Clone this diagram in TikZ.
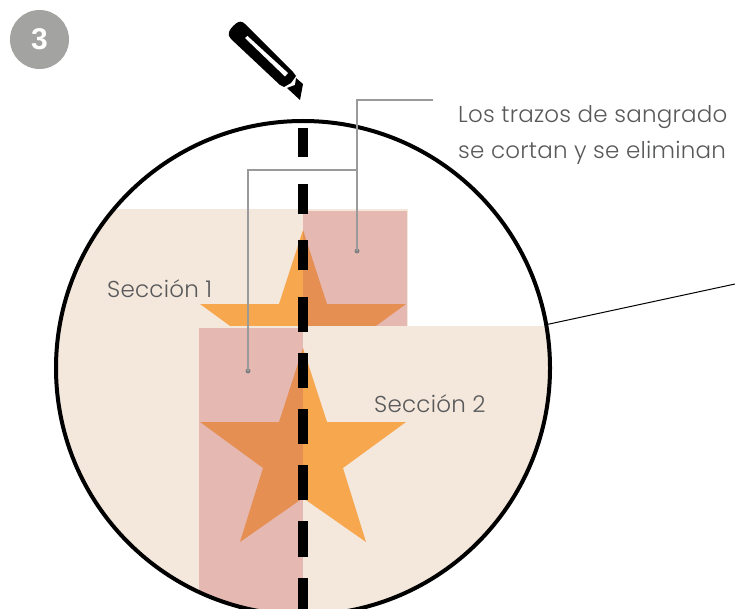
\documentclass[tikz,border=0pt]{standalone}
\usepackage{fontspec}
\setmainfont{Poppins}
\newfontfamily\etiqfont[UprightFont=* Light,LetterSpace=1.0]{Poppins}
\newfontfamily\badgefont{Liberation Sans}
\definecolor{beige}{HTML}{F4E7DB}
\definecolor{rosa}{HTML}{E5B8B1}
\definecolor{naranja}{HTML}{F7A84F}
\definecolor{naranjaosc}{HTML}{E58F53}
\definecolor{gristexto}{HTML}{58595B}
\definecolor{gristrazo}{HTML}{9A9A9A}
\definecolor{badge}{HTML}{A3A3A2}
\tikzset{
  leader/.style={draw=gristrazo,line width=1.2pt},
  leaderdot/.style={circle,fill=gray,inner sep=0pt,minimum size=5pt},
  etiqueta/.style={text=gristexto,font=\etiqfont\fontsize{23}{36}\selectfont,inner sep=0pt,align=left},
  corte/.style={fill=black},
}
\def\starshape#1{(303,#1) -- ++(24,74) -- ++(79,0) -- ++(-63,46) -- ++(23,74) -- ++(-63,-44) -- ++(-63,44) -- ++(23,-74) -- ++(-63,-46) -- ++(79,0) -- cycle}
\begin{document}
\begin{tikzpicture}[x=1pt,y=-1pt]
\useasboundingbox (0,0) rectangle (735,609);
\begin{scope}
  \clip (0,0) rectangle (735,609);
  \begin{scope}
    \clip (303,368) circle [radius=247];
    \fill[beige] (40,209) rectangle (408,640);
    \fill[rosa] (303,211) rectangle (407,326);
    \begin{scope}
      \clip (40,200) rectangle (303,326);
      \fill[naranja] \starshape{230};
    \end{scope}
    \begin{scope}
      \clip (303,200) rectangle (420,326);
      \fill[naranjaosc] \starshape{230};
    \end{scope}
    \fill[beige] (199,326) rectangle (560,640);
    \fill[rosa] (199,328) rectangle (303,640);
    \begin{scope}
      \clip (199,328) rectangle (303,640);
      \fill[naranjaosc] \starshape{348};
    \end{scope}
    \begin{scope}
      \clip (303,328) rectangle (420,640);
      \fill[naranja] \starshape{348};
    \end{scope}
  \end{scope}
  \draw[black,line width=4pt] (303,368) circle [radius=247];
  \foreach \a/\b in {128/157,184/214,240/270,297/332,353/388,409/444,465/500,521/557,578/615}
    \fill[corte] (298,\a) rectangle (308,\b);
\end{scope}
\coordinate (extremo) at (735,284);
\coordinate (borde) at (547,324.5);
\draw[black,line width=1pt] (borde) -- (extremo);
\node[leaderdot] (puntoa) at (357,251) {};
\node[leaderdot] (puntob) at (248,371) {};
\coordinate (inicio) at (433,100);
\draw[leader] (inicio) -- (357,100) -- (puntoa.center);
\draw[leader] (357,170) -- (248,170) -- (puntob.center);
\node[etiqueta,anchor=base west] (txt) at (458,159) {Los trazos de sangrado\\se cortan y se eliminan};
\node[etiqueta,anchor=base west] (s1) at (107,298) {Sección 1};
\node[etiqueta,anchor=base west] (s2) at (374,412) {Sección 2};
\node[circle,fill=badge,minimum size=59pt,inner sep=0pt,text=white,font=\badgefont\bfseries\fontsize{30}{30}\selectfont] (num) at (39.5,39.5) {3};
\fill[black] (236,23.5) .. controls (239,21) and (242,21) .. (245,24) -- (293,72) -- (296,76) -- (291,83) -- (284,87) -- (280,85) -- (231,39) .. controls (227,35) and (228,30) .. (236,23.5) -- cycle;
\fill[white] (245,38) -- (247.5,36) -- (288,73) -- (285,76.5) -- cycle;
\fill[black] (287,88) -- (295,85) -- (296,78) -- (303,84) -- (300,100) -- cycle;
\end{tikzpicture}
\end{document}
